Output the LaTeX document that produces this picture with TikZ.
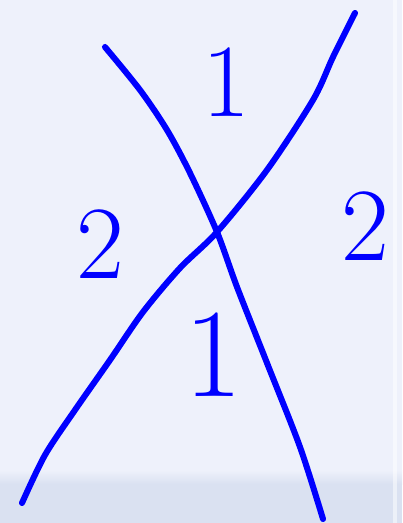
\documentclass[tikz,border=0pt]{standalone}
\usepackage{xcolor}
\usetikzlibrary{positioning}

\definecolor{paper}{RGB}{238,241,251}
\definecolor{strip}{RGB}{218,225,241}
\definecolor{ink}{RGB}{0,0,255}

\begin{document}
\begin{tikzpicture}[
    x=0.025cm, y=-0.025cm,
    stroke/.style={ink, line width=4.3pt, line cap=round, line join=round},
    digit/.style={ink, inner sep=0pt, font=\fontsize{74}{74}\selectfont},
]
    % background
    \fill[paper] (0,0) rectangle (402,523);
    \shade[top color=paper, bottom color=strip] (0,470) rectangle (402,484);
    \fill[strip] (0,484) rectangle (402,523);
    \fill[white, opacity=0.5] (393,0) rectangle (397,523);
    \useasboundingbox (0,0) rectangle (402,523);

    % the two crossing strokes
    \draw[stroke] plot[smooth] coordinates {(105,47) (140,90) (167,130) (190,173) (217,232) (237,287) (267,363) (300,447) (323,519)};
    \draw[stroke] plot[smooth] coordinates {(355,13) (333,57) (313,100) (267,170) (217,232) (180,268) (143,312) (110,360) (75,410) (45,455) (22,503)};

    % labels
    \node[digit] (oneT) at (226,82) {1};
    \node[digit] (twoL) at (100,244) {2};
    \node[digit] (twoR) at (365,226) {2};
    \node[digit, font=\fontsize{90}{90}\selectfont] (oneB) at (214,355) {1};
\end{tikzpicture}
\end{document}
